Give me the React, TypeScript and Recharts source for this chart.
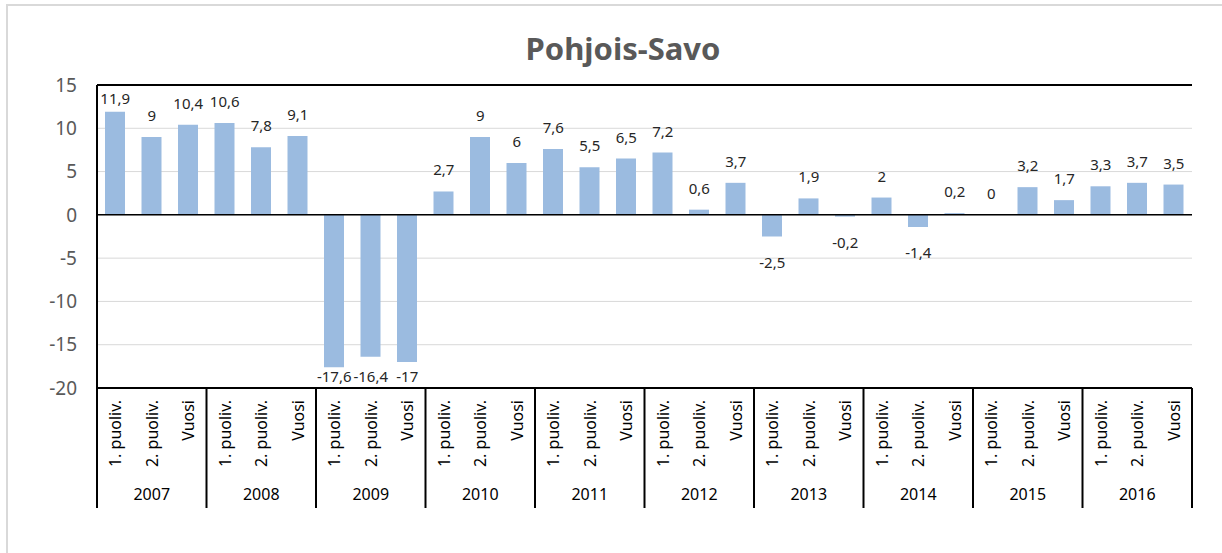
import React from 'react';
import {
  ComposedChart,
  Bar,
  Line,
  XAxis,
  YAxis,
  CartesianGrid,
  ReferenceLine,
  LabelList,
} from 'recharts';

// Data
const YEARS = ['2007', '2008', '2009', '2010', '2011', '2012', '2013', '2014', '2015', '2016'];
const PERIODS = ['1. puoliv.', '2. puoliv.', 'Vuosi'];
const VALUES = [
  11.9, 9, 10.4,
  10.6, 7.8, 9.1,
  -17.6, -16.4, -17,
  2.7, 9, 6,
  7.6, 5.5, 6.5,
  7.2, 0.6, 3.7,
  -2.5, 1.9, -0.2,
  2, -1.4, 0.2,
  0, 3.2, 1.7,
  3.3, 3.7, 3.5,
];
const Y_TICKS = [-20, -15, -10, -5, 0, 5, 10, 15];

const chartData = VALUES.map((value, i) => ({
  key: `${YEARS[Math.floor(i / 3)]}-${i % 3}`,
  year: YEARS[Math.floor(i / 3)],
  period: PERIODS[i % 3],
  value,
}));

const WIDTH = 1222;
const HEIGHT = 553;
const MARGIN = { top: 85, right: 30, bottom: 45, left: 37 };
const Y_AXIS_WIDTH = 60;
const X_AXIS_HEIGHT = 120;
const PLOT_LEFT = MARGIN.left + Y_AXIS_WIDTH;
const PLOT_RIGHT = WIDTH - MARGIN.right;
const PLOT_TOP = MARGIN.top;
const PLOT_BOTTOM = HEIGHT - MARGIN.bottom - X_AXIS_HEIGHT;
const BAND = (PLOT_RIGHT - PLOT_LEFT) / chartData.length;

const FONT = '"Noto Sans", sans-serif';

const formatValue = (v: number) => String(v).replace('.', ',');

// labels are placed off an invisible line so the 0 value gets one too
const ValueLabel = (props: any) => {
  const { x, y, value } = props;
  const v = Number(value);
  const cy = v >= 0 ? Math.max(y - 22, PLOT_TOP + 13) : Math.min(y + 25, PLOT_BOTTOM - 12);
  return (
    <text
      x={x}
      y={cy}
      textAnchor="middle"
      dominantBaseline="central"
      fontSize={15}
      fontFamily={FONT}
      fill="#262626"
    >
      {formatValue(v)}
    </text>
  );
};

const CategoryTick = (props: any) => {
  const { x, payload } = props;
  const i = payload.index;
  const row = chartData[i];
  return (
    <g>
      <text
        transform={`translate(${x}, ${PLOT_BOTTOM + 12}) rotate(-90)`}
        textAnchor="end"
        dominantBaseline="central"
        fontSize={16}
        fontFamily={FONT}
        fill="#000"
      >
        {row.period}
      </text>
      {i % 3 === 0 && (
        <line x1={x - BAND / 2} x2={x - BAND / 2} y1={PLOT_BOTTOM} y2={PLOT_BOTTOM + 120} stroke="#000" strokeWidth={2} />
      )}
      {i === chartData.length - 1 && (
        <line x1={x + BAND / 2} x2={x + BAND / 2} y1={PLOT_BOTTOM} y2={PLOT_BOTTOM + 120} stroke="#000" strokeWidth={2} />
      )}
      {i % 3 === 1 && (
        <text
          x={x}
          y={PLOT_BOTTOM + 106}
          textAnchor="middle"
          dominantBaseline="central"
          fontSize={16}
          fontFamily={FONT}
          fill="#000"
        >
          {row.year}
        </text>
      )}
    </g>
  );
};

export default function App() {
  return (
    <div style={{ position: 'absolute', left: 0, top: 0, width: WIDTH, height: HEIGHT, background: '#fff', overflow: 'hidden' }}>
      <div
        style={{
          position: 'absolute',
          left: 6,
          top: 4,
          right: -10,
          bottom: -10,
          borderLeft: '2px solid #d9d9d9',
          borderTop: '2px solid #d9d9d9',
        }}
      />
      <div
        style={{
          position: 'absolute',
          left: 12,
          width: WIDTH,
          top: 27,
          textAlign: 'center',
          fontFamily: FONT,
          fontWeight: 700,
          fontSize: 31,
          color: '#595959',
        }}
      >
        Pohjois-Savo
      </div>
      <div style={{ position: 'absolute', left: 0, top: 0 }}>
        <ComposedChart width={WIDTH} height={HEIGHT} data={chartData} margin={MARGIN}>
          <CartesianGrid vertical={false} stroke="#d9d9d9" strokeWidth={1} />
          <XAxis
            dataKey="key"
            interval={0}
            height={X_AXIS_HEIGHT}
            tickLine={false}
            axisLine={{ stroke: '#000', strokeWidth: 2 }}
            tick={<CategoryTick />}
          />
          <YAxis
            domain={[-20, 15]}
            ticks={Y_TICKS}
            width={Y_AXIS_WIDTH}
            tickLine={false}
            axisLine={{ stroke: '#000', strokeWidth: 2 }}
            tick={{ fontSize: 19, fill: '#595959', fontFamily: FONT }}
            tickMargin={14}
          />
          <YAxis
            yAxisId="right"
            orientation="right"
            domain={[-20, 15]}
            width={0}
            tick={false}
            tickLine={false}
            axisLine={{ stroke: '#000', strokeWidth: 2 }}
          />
          <ReferenceLine y={15} stroke="#000" strokeWidth={2} />
          <Bar dataKey="value" fill="#9bbbe0" barSize={20} isAnimationActive={false} />
          <ReferenceLine y={0} stroke="#000" strokeWidth={1.5} />
          <Line
            dataKey="value"
            stroke="none"
            dot={false}
            activeDot={false}
            isAnimationActive={false}
          >
            <LabelList dataKey="value" content={<ValueLabel />} />
          </Line>
        </ComposedChart>
      </div>
    </div>
  );
}
